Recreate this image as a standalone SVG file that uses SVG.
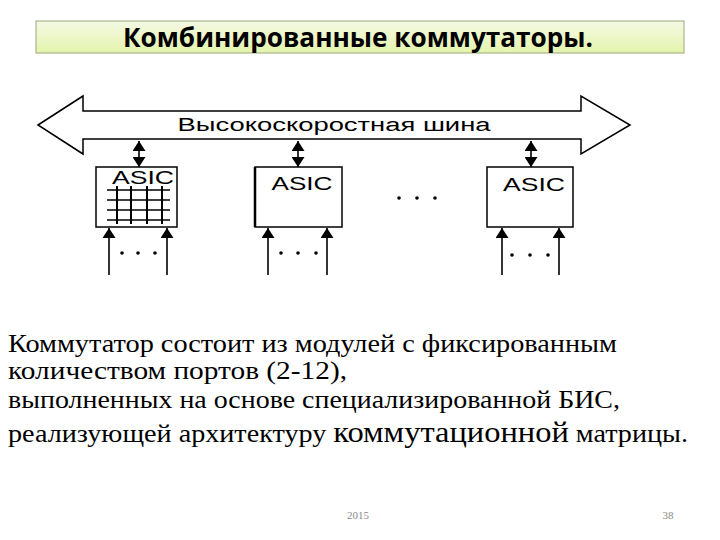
<svg xmlns="http://www.w3.org/2000/svg" width="720" height="540" viewBox="0 0 720 540">
<defs>
<linearGradient id="tg" x1="0" y1="0" x2="0" y2="1">
<stop offset="0" stop-color="#f4f9e4"/>
<stop offset="1" stop-color="#e4f4ac"/>
</linearGradient>
<marker id="ah" viewBox="0 0 10 13" refX="10" refY="6.5" markerWidth="10" markerHeight="13" markerUnits="userSpaceOnUse" orient="auto-start-reverse">
<path d="M0,0 L10,6.5 L0,13 z" fill="#000"/>
</marker>
</defs>
<style>
.box{fill:#fff;stroke:#000;stroke-width:1.5}
.lbl{font-family:"Liberation Sans",Arial,sans-serif;fill:#000}
.ln{stroke:#000;stroke-width:1.6;fill:none}
.grid{stroke:#000;stroke-width:1.6}
.dot{fill:#000}
.body{font-family:"Liberation Serif","Times New Roman",serif;font-size:26px;fill:#000}
.foot{font-family:"Liberation Serif","Times New Roman",serif;font-size:11px;fill:#888}
</style>
<rect width="720" height="540" fill="#fff"/>
<g id="title">
<rect x="36" y="21" width="648" height="32" fill="url(#tg)" stroke="#9aa87a" stroke-width="1"/>
<text x="358" y="47" text-anchor="middle" font-family="'Open Sans','Liberation Sans',sans-serif" font-weight="bold" font-size="26" textLength="470" lengthAdjust="spacingAndGlyphs">Комбинированные коммутаторы.</text>
</g>
<g id="bus">
<polygon points="38,125 83,96 83,111 581,111 581,96 630,125 581,154 581,139 83,139 83,154" fill="#fff" stroke="#000" stroke-width="1.5"/>
<text class="lbl" x="334" y="131" text-anchor="middle" font-size="18" textLength="313" lengthAdjust="spacingAndGlyphs">Высокоскоростная шина</text>
</g>
<g id="asic1">
<rect class="box" x="96" y="167" width="81" height="60"/>
<text class="lbl" x="143" y="184" text-anchor="middle" font-size="18" textLength="62" lengthAdjust="spacingAndGlyphs">ASIC</text>
<g class="grid">
<line x1="107" y1="190" x2="170" y2="190"/>
<line x1="107" y1="200" x2="170" y2="200"/>
<line x1="107" y1="210" x2="170" y2="210"/>
<line x1="107" y1="220" x2="170" y2="220"/>
<line x1="117" y1="186" x2="117" y2="224" stroke-width="2"/>
<line x1="131" y1="186" x2="131" y2="224" stroke-width="2"/>
<line x1="147" y1="186" x2="147" y2="224" stroke-width="2"/>
<line x1="162" y1="186" x2="162" y2="224" stroke-width="2"/>
</g>
</g>
<g id="asic2">
<rect class="box" x="255" y="167" width="87" height="60"/>
<line x1="255" y1="167" x2="255" y2="227" stroke="#000" stroke-width="2.5"/>
<text class="lbl" x="302" y="190" text-anchor="middle" font-size="18" textLength="61" lengthAdjust="spacingAndGlyphs">ASIC</text>
</g>
<g id="asic3">
<rect class="box" x="487" y="167" width="86" height="60"/>
<text class="lbl" x="534" y="191" text-anchor="middle" font-size="18" textLength="62" lengthAdjust="spacingAndGlyphs">ASIC</text>
</g>
<g id="dots">
<circle class="dot" cx="122" cy="253" r="1.8"/><circle class="dot" cx="138" cy="253" r="1.8"/><circle class="dot" cx="155" cy="253" r="1.8"/>
<circle class="dot" cx="281" cy="253" r="1.8"/><circle class="dot" cx="298" cy="253" r="1.8"/><circle class="dot" cx="316" cy="253" r="1.8"/>
<circle class="dot" cx="512" cy="255" r="1.8"/><circle class="dot" cx="530" cy="255" r="1.8"/><circle class="dot" cx="548" cy="255" r="1.8"/>
<circle class="dot" cx="399" cy="198" r="1.8"/><circle class="dot" cx="417" cy="198" r="1.8"/><circle class="dot" cx="435" cy="198" r="1.8"/>
</g>
<g id="connectors">
<line class="ln" x1="139" y1="141" x2="139" y2="167" marker-start="url(#ah)" marker-end="url(#ah)"/>
<line class="ln" x1="298" y1="141" x2="298" y2="167" marker-start="url(#ah)" marker-end="url(#ah)"/>
<line class="ln" x1="531" y1="141" x2="531" y2="167" marker-start="url(#ah)" marker-end="url(#ah)"/>
<line class="ln" x1="109" y1="275" x2="109" y2="228" marker-end="url(#ah)"/>
<line class="ln" x1="167" y1="275" x2="167" y2="228" marker-end="url(#ah)"/>
<line class="ln" x1="268" y1="275" x2="268" y2="228" marker-end="url(#ah)"/>
<line class="ln" x1="327" y1="275" x2="327" y2="228" marker-end="url(#ah)"/>
<line class="ln" x1="502" y1="275" x2="502" y2="228" marker-end="url(#ah)"/>
<line class="ln" x1="559" y1="275" x2="559" y2="228" marker-end="url(#ah)"/>
</g>
<g id="body">
<text class="body" x="8" y="352" textLength="609" lengthAdjust="spacingAndGlyphs">Коммутатор состоит из модулей с фиксированным</text>
<text class="body" x="8" y="379" textLength="339" lengthAdjust="spacingAndGlyphs">количеством портов (2-12),</text>
<text class="body" x="8" y="408" textLength="612" lengthAdjust="spacingAndGlyphs">выполненных на основе специализированной БИС,</text>
<text class="body" x="8" y="442" textLength="680" lengthAdjust="spacingAndGlyphs">реализующей архитектуру <tspan font-size="30">коммутационной</tspan> матрицы.</text>
</g>
<g id="footer">
<text class="foot" x="358" y="519" text-anchor="middle">2015</text>
<text class="foot" x="668" y="519" text-anchor="middle">38</text>
</g>
</svg>
